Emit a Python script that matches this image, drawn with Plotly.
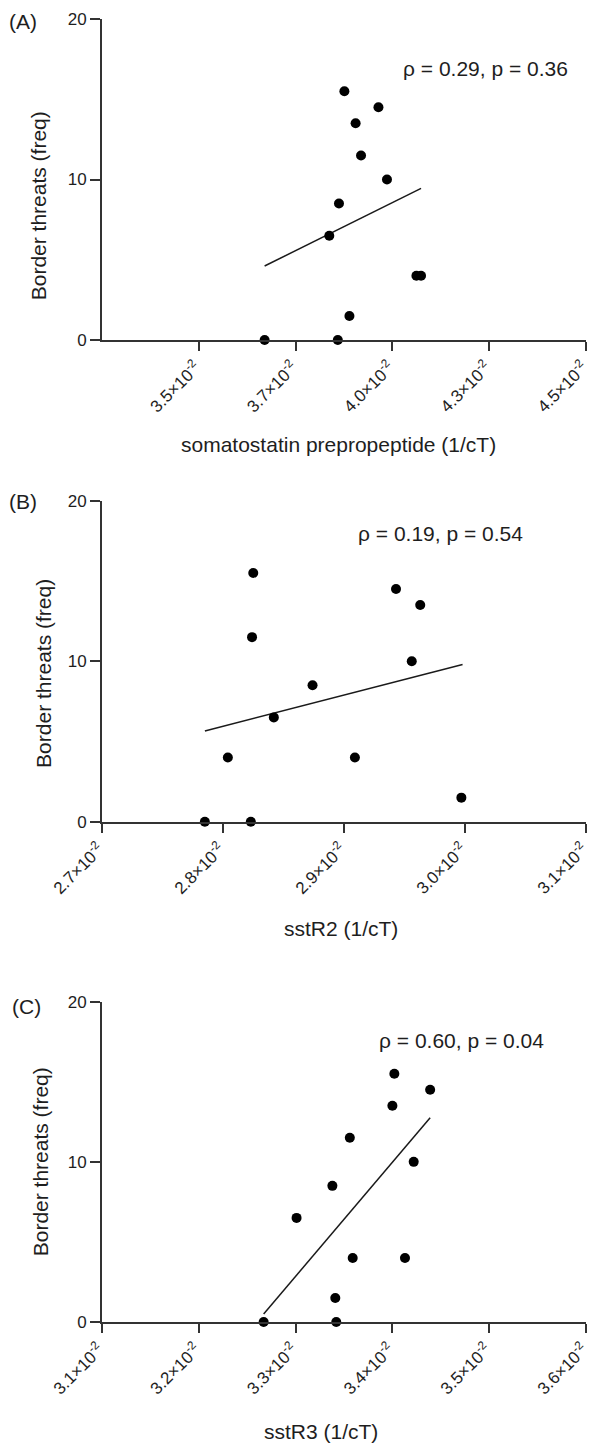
import plotly.graph_objects as go

# ---------------- data ----------------
# Panel A: somatostatin prepropeptide
A_x = [0.03670, 0.03859, 0.03876, 0.03964, 0.03905, 0.03919, 0.03986, 0.03862, 0.03837, 0.04062, 0.04074, 0.03889]
A_y = [0, 0, 15.5, 14.5, 13.5, 11.5, 10, 8.5, 6.5, 4, 4, 1.5]
A_fit_x = [0.03670, 0.04074]
A_fit_y = [4.61, 9.45]
A_tickvals = [0.035, 0.0375, 0.040, 0.0425, 0.045]
A_ticktext = ["3.5", "3.7", "4.0", "4.3", "4.5"]
A_range = [0.0325, 0.045]

# Panel B: sstR2
B_x = [0.02785, 0.02823, 0.02825, 0.02824, 0.02804, 0.02842, 0.02874, 0.02909, 0.02943, 0.02963, 0.02956, 0.02997]
B_y = [0, 0, 15.5, 11.5, 4, 6.5, 8.5, 4, 14.5, 13.5, 10, 1.5]
B_fit_x = [0.02785, 0.02998]
B_fit_y = [5.65, 9.8]
B_tickvals = [0.027, 0.028, 0.029, 0.030, 0.031]
B_ticktext = ["2.7", "2.8", "2.9", "3.0", "3.1"]
B_range = [0.027, 0.031]

# Panel C: sstR3
C_x = [0.03267, 0.03342, 0.03341, 0.03301, 0.03338, 0.03356, 0.03359, 0.03413, 0.03400, 0.03402, 0.03439, 0.03422]
C_y = [0, 0, 1.5, 6.5, 8.5, 11.5, 4, 4, 13.5, 15.5, 14.5, 10]
C_fit_x = [0.03267, 0.03439]
C_fit_y = [0.5, 12.75]
C_tickvals = [0.031, 0.032, 0.033, 0.034, 0.035, 0.036]
C_ticktext = ["3.1", "3.2", "3.3", "3.4", "3.5", "3.6"]
C_range = [0.031, 0.036]

panel_labels = ["(A)", "(B)", "(C)"]
x_titles = ["somatostatin prepropeptide (1/cT)", "sstR2 (1/cT)", "sstR3 (1/cT)"]
y_title = "Border threats (freq)"
stats = ["\u03c1 = 0.29, p = 0.36", "\u03c1 = 0.19, p = 0.54", "\u03c1 = 0.60, p = 0.04"]
y_tickvals = [0, 10, 20]

# ---------------- layout helpers ----------------
W, H = 594, 1443
FONT = "Liberation Sans, Arial, Helvetica, sans-serif"
TXT = "#1e1e1e"
AX = "#333333"

def px(xp):
    return xp / W

def py(yp):
    return 1 - yp / H

x_dom = [px(102), px(586)]
y_doms = [[py(340), py(19)], [py(821.7), py(500.7)], [py(1322), py(1001.7)]]

panels = [
    (A_x, A_y, A_fit_x, A_fit_y, A_tickvals, A_ticktext, A_range),
    (B_x, B_y, B_fit_x, B_fit_y, B_tickvals, B_ticktext, B_range),
    (C_x, C_y, C_fit_x, C_fit_y, C_tickvals, C_ticktext, C_range),
]

fig = go.Figure()
layout = dict(
    template="none",
    width=W, height=H,
    margin=dict(l=0, r=0, t=0, b=0, pad=0),
    paper_bgcolor="white", plot_bgcolor="white",
    showlegend=False,
    font=dict(family=FONT, color=TXT, size=16),
)

annotations = []
# positions of texts (pixels)
label_pos = [(22.5, 21.7), (22.8, 501.7), (26.6, 1006.7)]
ytitle_pos = [(38.3, 206), (43.6, 673.3), (40.6, 1161.7)]
xtitle_pos = [(338.6, 445), (340.5, 928), (320.5, 1431.0)]
stat_pos = [(485.5, 68), (440, 533.3), (461, 1040)]

for i, (xs, ys, fx, fy, tv, tt, rng) in enumerate(panels):
    sfx = "" if i == 0 else str(i + 1)
    xa, ya = "x" + sfx, "y" + sfx
    fig.add_trace(go.Scatter(
        x=fx, y=fy, mode="lines", xaxis=xa, yaxis=ya,
        line=dict(color="#1a1a1a", width=1.5), hoverinfo="skip", cliponaxis=False))
    fig.add_trace(go.Scatter(
        x=xs, y=ys, mode="markers", xaxis=xa, yaxis=ya,
        marker=dict(color="black", size=10, line=dict(width=0)), cliponaxis=False))
    layout["xaxis" + sfx] = dict(
        domain=x_dom, anchor=ya, range=rng, automargin=False,
        tickmode="array", tickvals=tv,
        ticktext=[t + "\u00d710<sup>-2</sup>" for t in tt],
        tickangle=-45, ticks="outside", ticklen=9, tickwidth=1.8, tickcolor=AX,
        ticklabeloverflow="allow", ticklabelshift=-3,
        showline=True, linecolor=AX, linewidth=1.8, mirror=False,
        showgrid=False, zeroline=False,
        tickfont=dict(family=FONT, size=17, color=TXT),
    )
    layout["yaxis" + sfx] = dict(
        domain=y_doms[i], anchor=xa, range=[0, 20], automargin=False,
        tickmode="array", tickvals=y_tickvals,
        ticks="outside", ticklen=10, tickwidth=1.8, tickcolor=AX,
        ticklabeloverflow="allow",
        showline=True, linecolor=AX, linewidth=1.8, mirror=False,
        showgrid=False, zeroline=False,
        tickfont=dict(family=FONT, size=17, color=TXT),
    )
    lx, ly = label_pos[i]
    annotations.append(dict(text=panel_labels[i], x=px(lx), y=py(ly), xref="paper", yref="paper",
                            showarrow=False, xanchor="center", yanchor="middle",
                            font=dict(family=FONT, size=21, color=TXT)))
    tx, ty = ytitle_pos[i]
    annotations.append(dict(text=y_title, x=px(tx), y=py(ty), xref="paper", yref="paper",
                            showarrow=False, textangle=-90, xanchor="center", yanchor="middle",
                            font=dict(family=FONT, size=21, color=TXT)))
    tx, ty = xtitle_pos[i]
    annotations.append(dict(text=x_titles[i], x=px(tx), y=py(ty), xref="paper", yref="paper",
                            showarrow=False, xanchor="center", yanchor="middle",
                            font=dict(family=FONT, size=21, color=TXT)))
    sx, sy = stat_pos[i]
    annotations.append(dict(text=stats[i], x=px(sx), y=py(sy), xref="paper", yref="paper",
                            showarrow=False, xanchor="center", yanchor="middle",
                            font=dict(family=FONT, size=21, color=TXT)))

layout["annotations"] = annotations
fig.update_layout(**layout)
# remove the browser's default 8px page margin so the figure fills the window exactly
fig.write_html("out.html", config={"displayModeBar": False},
               post_script="document.body.style.margin='0px';")
